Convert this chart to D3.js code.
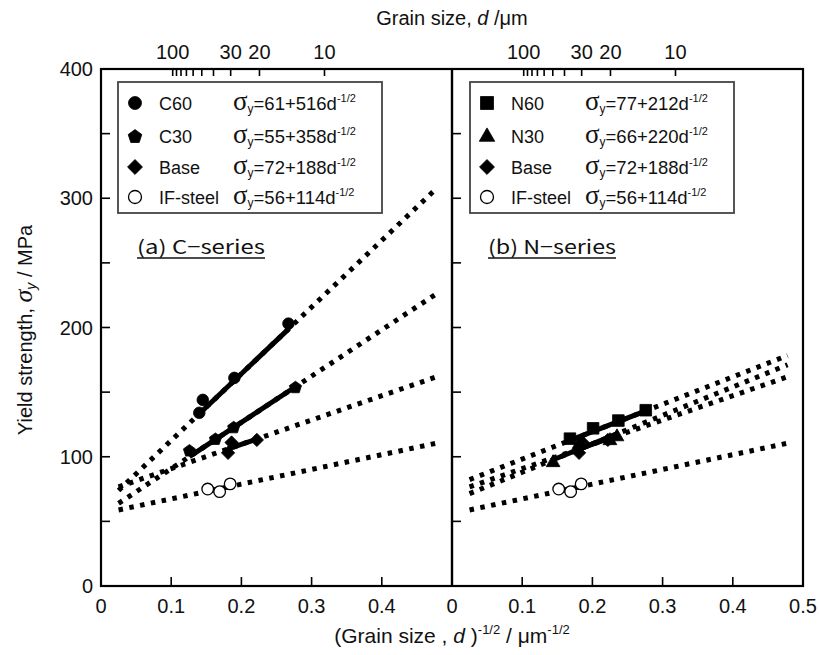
<!DOCTYPE html>
<html><head><meta charset="utf-8">
<script src="https://cdn.jsdelivr.net/npm/d3@7"></script>
<style>body{margin:0;background:#fff}</style>
</head><body>
<svg id="chart" width="819" height="655"></svg>
<script>
// Axis ticks
const xTicksLeft = [0, 0.1, 0.2, 0.3, 0.4];
const xTicksRight = [0, 0.1, 0.2, 0.3, 0.4, 0.5];
const yTicks = [0, 100, 200, 300, 400];
const yMinorTicks = [50, 150, 250, 350];
const grainTicks = [100, 90, 80, 70, 60, 50, 40, 30, 20, 10];
const grainLabels = [100, 30, 20, 10];

// Measured yield strength vs d^-1/2
const c60 = [[0.140, 134], [0.145, 144], [0.190, 161], [0.267, 203]];
const c30 = [[0.126, 105], [0.163, 114], [0.189, 123], [0.277, 154]];
const base = [[0.181, 103], [0.186, 111], [0.222, 113]];
const ifSteel = [[0.152, 75], [0.169, 73], [0.184, 79]];
const n60 = [[0.168, 114], [0.201, 122], [0.237, 128], [0.276, 136]];
const n30 = [[0.144, 96], [0.181, 110], [0.225, 113], [0.235, 116]];

// Hall–Petch fits: sigma_y = sigma0 + k * d^-1/2
const seriesNames = ["C60", "C30", "Base", "IF-steel", "N60", "N30"];
const sigma0 = [61, 55, 72, 56, 77, 66];
const kCoef = [516, 358, 188, 114, 212, 220];
const fitRange = [0.025, 0.478];

const seriesData = { "C60": c60, "C30": c30, "Base": base, "IF-steel": ifSteel, "N60": n60, "N30": n30 };
const seriesShape = { "C60": "circle", "C30": "pentagon", "Base": "diamond", "IF-steel": "open", "N60": "square", "N30": "triangle" };

const leftSeries = ["C60", "C30", "Base", "IF-steel"];
const rightSeries = ["N60", "N30", "Base", "IF-steel"];

const svg = d3.select("#chart");
const FONT = "'Liberation Sans', Arial, sans-serif";
const INK = "#111";
const plotTop = 69, plotBottom = 586;
const y = d3.scaleLinear().domain([0, 400]).range([plotBottom, plotTop]);

function markerPath(shape, s) {
  if (shape === "circle" || shape === "open") {
    return d3.symbol(d3.symbolCircle, Math.PI * s * s)();
  }
  if (shape === "square") {
    return `M${-s},${-s}H${s}V${s}H${-s}Z`;
  }
  if (shape === "diamond") {
    const r = s * 1.15;
    return `M0,${-r}L${r},0L0,${r}L${-r},0Z`;
  }
  if (shape === "triangle") {
    const r = s * 1.25;
    return `M0,${-r}L${r * 0.95},${r * 0.65}L${-r * 0.95},${r * 0.65}Z`;
  }
  if (shape === "pentagon") {
    const r = s * 1.1;
    const pts = d3.range(5).map(i => {
      const a = -Math.PI / 2 + i * 2 * Math.PI / 5;
      return [r * Math.cos(a), r * Math.sin(a) + r * 0.1];
    });
    return "M" + pts.map(p => p.join(",")).join("L") + "Z";
  }
}

function drawMarker(g, shape, cx, cy, s) {
  g.append("path")
    .attr("d", markerPath(shape, s))
    .attr("transform", `translate(${cx},${cy})`)
    .attr("fill", shape === "open" ? "#fff" : "#000")
    .attr("stroke", "#000")
    .attr("stroke-width", shape === "open" ? 1.3 : 0.8);
}

function drawPanel(x0, x1, names, xTicks, label, legendX) {
  const x = d3.scaleLinear().domain([0, 0.5]).range([x0, x1]);
  const g = svg.append("g");
  const line = d3.line().x(d => x(d[0])).y(d => y(d[1]));

  // Extrapolated fits (dotted)
  names.forEach(n => {
    const i = seriesNames.indexOf(n);
    const pts = fitRange.map(v => [v, sigma0[i] + kCoef[i] * v]);
    g.append("path").attr("d", line(pts))
      .attr("fill", "none").attr("stroke", "#000")
      .attr("stroke-width", 5).attr("stroke-linecap", "butt")
      .attr("stroke-dasharray", "4.5 6.5");
  });
  // Fits over the measured range (solid)
  names.forEach(n => {
    const i = seriesNames.indexOf(n);
    const ext = d3.extent(seriesData[n], d => d[0]);
    const pts = ext.map(v => [v, sigma0[i] + kCoef[i] * v]);
    g.append("path").attr("d", line(pts))
      .attr("fill", "none").attr("stroke", "#000")
      .attr("stroke-width", 5).attr("stroke-linecap", "butt");
  });
  // Data points
  names.forEach(n => {
    seriesData[n].forEach(d => drawMarker(g, seriesShape[n], x(d[0]), y(d[1]), 5.8));
  });

  const ax = svg.append("g").attr("stroke", "#000").attr("stroke-width", 1.6);
  // Bottom axis ticks (inward)
  xTicks.filter(t => t > 0 && t < 0.5).forEach(t => {
    ax.append("line").attr("x1", x(t)).attr("x2", x(t)).attr("y1", plotBottom).attr("y2", plotBottom - 9);
  });
  // Left-side y ticks (inward)
  yTicks.filter(t => t > 0 && t < 400).concat(yMinorTicks).forEach(t => {
    ax.append("line").attr("x1", x0).attr("x2", x0 + 9).attr("y1", y(t)).attr("y2", y(t));
  });
  // Top axis: grain size d, positioned at d^-1/2
  grainTicks.forEach(d => {
    const xv = x(1 / Math.sqrt(d)) + 1.5;
    ax.append("line").attr("x1", xv).attr("x2", xv).attr("y1", plotTop).attr("y2", plotTop + 7);
  });
  grainLabels.forEach(d => {
    svg.append("text").attr("x", x(1 / Math.sqrt(d)) + 1.5).attr("y", plotTop - 10)
      .attr("text-anchor", "middle").attr("font-family", FONT).attr("font-size", 20)
      .attr("fill", INK).text(d);
  });
  // Bottom tick labels
  xTicks.forEach(t => {
    svg.append("text").attr("x", x(t)).attr("y", plotBottom + 27)
      .attr("text-anchor", "middle").attr("font-family", FONT).attr("font-size", 20)
      .attr("fill", INK).text(t === 0 ? "0" : d3.format(".1f")(t));
  });

  // Panel caption
  svg.append("text").attr("x", x0 + 36).attr("y", 254)
    .attr("font-family", "'Noto Sans CJK JP', sans-serif").attr("font-size", 19)
    .attr("fill", INK).attr("textLength", 128).attr("lengthAdjust", "spacingAndGlyphs")
    .text(label);
  svg.append("line").attr("x1", x0 + 36).attr("x2", x0 + 164).attr("y1", 258).attr("y2", 258)
    .attr("stroke", INK).attr("stroke-width", 1.4);

  // Legend
  const lg = svg.append("g");
  lg.append("rect").attr("x", legendX).attr("y", 82).attr("width", 264).attr("height", 131)
    .attr("fill", "#fff").attr("stroke", "#444").attr("stroke-width", 1.8);
  const rowY = [103, 136, 167, 197];
  names.forEach((n, r) => {
    const i = seriesNames.indexOf(n);
    drawMarker(lg, seriesShape[n], legendX + 17, rowY[r], 6.5);
    lg.append("text").attr("x", legendX + 41).attr("y", rowY[r] + 6.5)
      .attr("font-family", FONT).attr("font-size", 18).attr("fill", INK).text(n);
    const t = lg.append("text").attr("x", legendX + 115).attr("y", rowY[r] + 6.5)
      .attr("font-family", FONT).attr("font-size", 18.5).attr("fill", INK);
    t.append("tspan").attr("font-family", "'Liberation Serif', serif").attr("font-size", 27).text("σ");
    t.append("tspan").attr("font-size", 12).attr("dy", 3).text("y");
    t.append("tspan").attr("dy", -3).text(`=${sigma0[i]}+${kCoef[i]}d`);
    t.append("tspan").attr("font-size", 11).attr("dy", -8).text("-1/2");
  });
}

drawPanel(101, 452, leftSeries, xTicksLeft, "(a) C\u2212series", 118);
drawPanel(452, 803, rightSeries, xTicksRight, "(b) N\u2212series", 470);

// Frames
svg.append("rect").attr("x", 101).attr("y", plotTop).attr("width", 702).attr("height", plotBottom - plotTop)
  .attr("fill", "none").attr("stroke", "#000").attr("stroke-width", 2.2);
svg.append("line").attr("x1", 452).attr("x2", 452).attr("y1", plotTop).attr("y2", plotBottom)
  .attr("stroke", "#000").attr("stroke-width", 2.4);

// Y tick labels
yTicks.forEach(t => {
  svg.append("text").attr("x", 93).attr("y", y(t) + 7).attr("text-anchor", "end")
    .attr("font-family", FONT).attr("font-size", 20).attr("fill", INK).text(t);
});

// Axis titles
const tt = svg.append("text").attr("x", 452).attr("y", 25).attr("text-anchor", "middle")
  .attr("font-family", FONT).attr("font-size", 20).attr("fill", INK);
tt.append("tspan").text("Grain size, ");
tt.append("tspan").attr("font-style", "italic").text("d");
tt.append("tspan").text(" /μm");

const bt = svg.append("text").attr("x", 452).attr("y", 643).attr("text-anchor", "middle")
  .attr("font-family", FONT).attr("font-size", 21).attr("fill", INK);
bt.append("tspan").text("(Grain size , ");
bt.append("tspan").attr("font-style", "italic").text("d");
bt.append("tspan").text(" )");
bt.append("tspan").attr("font-size", 13).attr("dy", -9).text("-1/2");
bt.append("tspan").attr("dy", 9).text(" / μm");
bt.append("tspan").attr("font-size", 13).attr("dy", -9).text("-1/2");

const yl = svg.append("text").attr("transform", "translate(32,330) rotate(-90)")
  .attr("text-anchor", "middle").attr("font-family", FONT).attr("font-size", 20).attr("fill", INK);
yl.append("tspan").text("Yield strength, ");
yl.append("tspan").attr("font-style", "italic").attr("font-family", "'Liberation Serif', serif").attr("font-size", 26).text("σ");
yl.append("tspan").attr("font-style", "italic").attr("font-size", 14).attr("dy", 4).text("y");
yl.append("tspan").attr("dy", -4).text(" / MPa");
</script>
</body></html>
